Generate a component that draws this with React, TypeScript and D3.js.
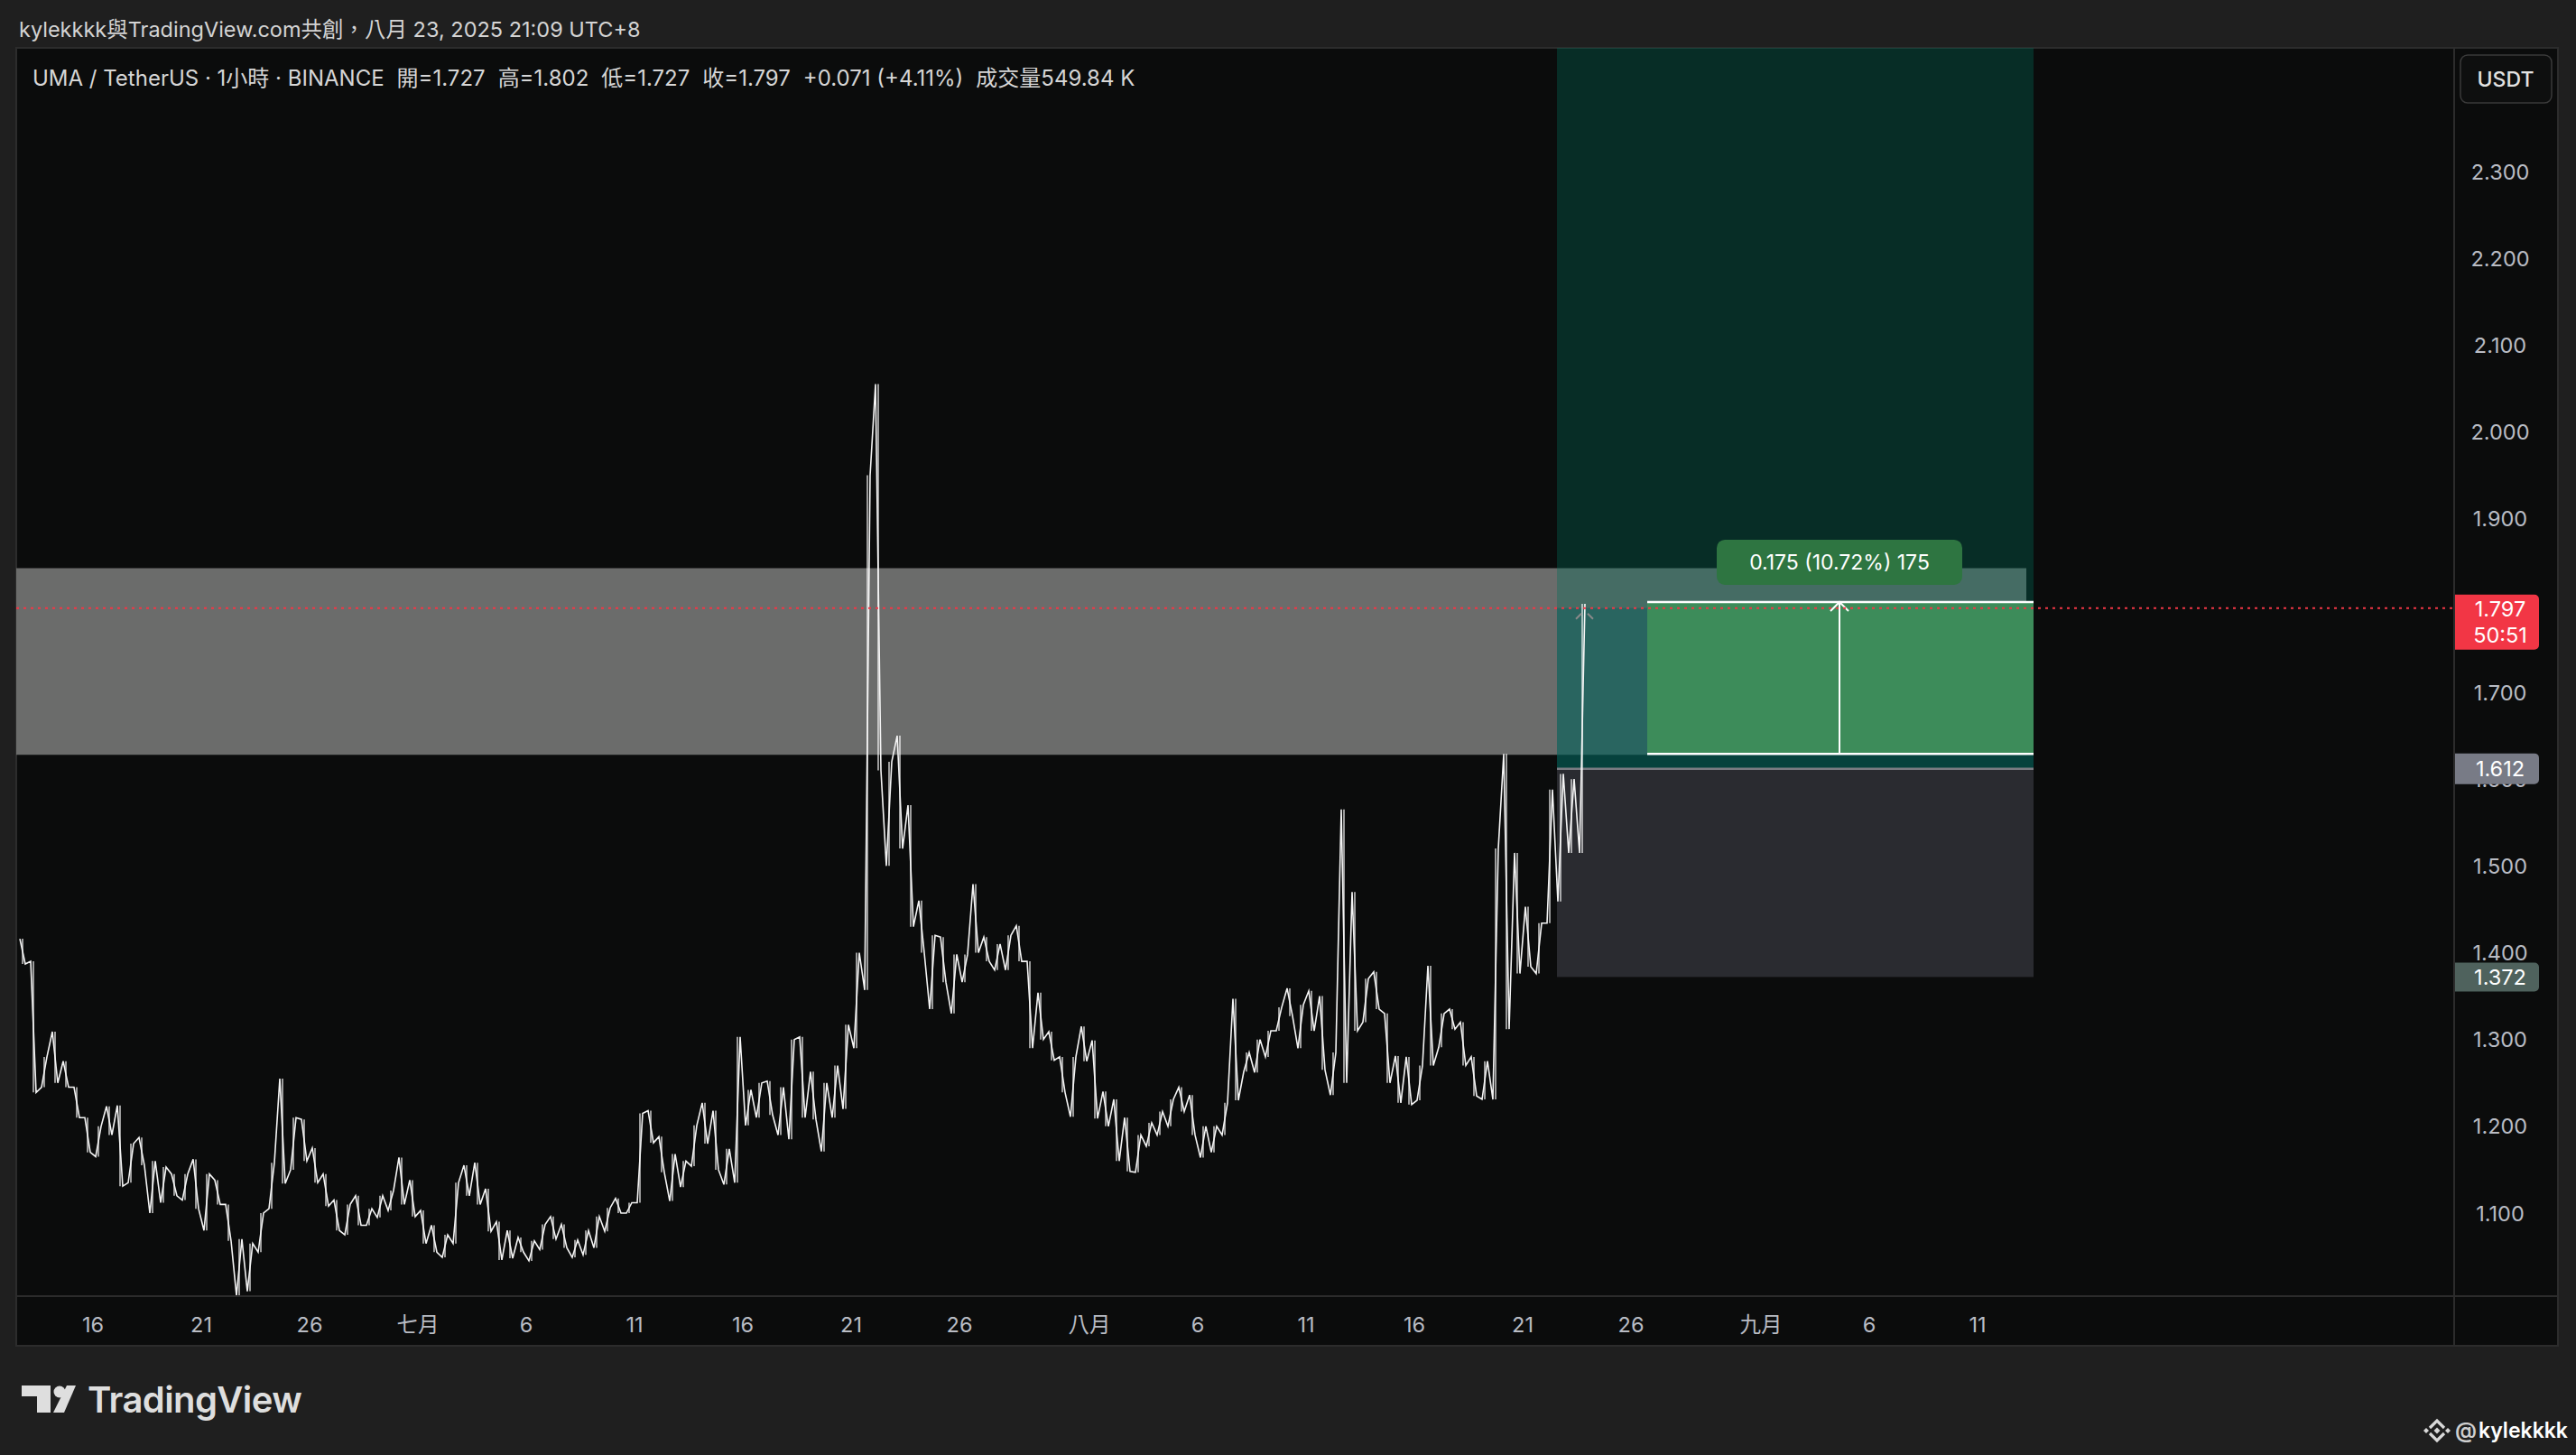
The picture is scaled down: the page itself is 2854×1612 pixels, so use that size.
import React from 'react';
import * as d3 from 'd3';

const W = 2854;
const H = 1612;
const FONT = "Inter, 'Noto Sans CJK TC', 'Noto Sans', sans-serif";

// ---- series: 12-hour buckets (high / low), first bucket starts 2025-06-12 12:00 ----
const seriesStart = '2025-06-12T12:00:00Z';
const bucketHours = 12;
const highs = [
  1.416, 1.39, 1.28, 1.309, 1.275, 1.245, 1.21, 1.2, 1.223, 1.224,
  1.18, 1.187, 1.16, 1.153, 1.145, 1.145, 1.162, 1.145, 1.138, 1.11,
  1.07, 1.065, 1.1, 1.158, 1.255, 1.21, 1.208, 1.175, 1.145, 1.115,
  1.11, 1.12, 1.105, 1.12, 1.126, 1.164, 1.138, 1.103, 1.086, 1.075,
  1.135, 1.155, 1.158, 1.128, 1.09, 1.08, 1.072, 1.068, 1.087, 1.096,
  1.087, 1.069, 1.08, 1.096, 1.106, 1.117, 1.112, 1.215, 1.218, 1.188,
  1.168, 1.16, 1.201, 1.227, 1.218, 1.174, 1.303, 1.242, 1.25, 1.252,
  1.245, 1.3, 1.303, 1.263, 1.25, 1.27, 1.317, 1.4, 1.95, 2.055,
  1.62, 1.65, 1.57, 1.46, 1.42, 1.418, 1.398, 1.398, 1.479, 1.418,
  1.41, 1.42, 1.431, 1.39, 1.354, 1.309, 1.28, 1.28, 1.315, 1.299,
  1.24, 1.231, 1.21, 1.19, 1.204, 1.217, 1.231, 1.245, 1.236, 1.2,
  1.2, 1.227, 1.347, 1.285, 1.3, 1.31, 1.337, 1.359, 1.34, 1.356,
  1.35, 1.285, 1.565, 1.47, 1.37, 1.378, 1.33, 1.281, 1.28, 1.27,
  1.385, 1.33, 1.335, 1.32, 1.28, 1.275, 1.52, 1.629, 1.515, 1.453,
  1.434, 1.588, 1.606, 1.6, 1.802,
];
const lows = [
  1.387, 1.239, 1.245, 1.25, 1.245, 1.21, 1.17, 1.165, 1.19, 1.131,
  1.135, 1.155, 1.1, 1.112, 1.12, 1.115, 1.105, 1.08, 1.11, 1.068,
  1.005, 1.01, 1.055, 1.105, 1.134, 1.15, 1.16, 1.135, 1.108, 1.08,
  1.075, 1.086, 1.086, 1.095, 1.103, 1.11, 1.096, 1.065, 1.055, 1.049,
  1.065, 1.12, 1.11, 1.079, 1.046, 1.048, 1.055, 1.045, 1.058, 1.07,
  1.06, 1.049, 1.052, 1.06, 1.079, 1.1, 1.1, 1.112, 1.181, 1.147,
  1.114, 1.13, 1.154, 1.18, 1.15, 1.133, 1.135, 1.201, 1.21, 1.213,
  1.19, 1.185, 1.21, 1.208, 1.171, 1.21, 1.22, 1.29, 1.357, 1.61,
  1.5, 1.52, 1.43, 1.4, 1.335, 1.366, 1.33, 1.366, 1.4, 1.39,
  1.38, 1.38, 1.39, 1.29, 1.3, 1.276, 1.239, 1.211, 1.275, 1.209,
  1.2, 1.16, 1.148, 1.147, 1.177, 1.19, 1.2, 1.217, 1.19, 1.164,
  1.17, 1.19, 1.23, 1.263, 1.262, 1.28, 1.31, 1.327, 1.29, 1.31,
  1.265, 1.236, 1.25, 1.31, 1.32, 1.335, 1.25, 1.227, 1.225, 1.23,
  1.27, 1.291, 1.312, 1.27, 1.235, 1.231, 1.231, 1.312, 1.376, 1.384,
  1.376, 1.434, 1.459, 1.515, 1.515,
];

// ---- axes ----
const priceTicks = [1.1, 1.2, 1.3, 1.4, 1.5, 1.6, 1.7, 1.8, 1.9, 2.0, 2.1, 2.2, 2.3];
const timeTickDates = [
  '2025-06-16', '2025-06-21', '2025-06-26', '2025-07-01', '2025-07-06', '2025-07-11',
  '2025-07-16', '2025-07-21', '2025-07-26', '2025-08-01', '2025-08-06', '2025-08-11',
  '2025-08-16', '2025-08-21', '2025-08-26', '2025-09-01', '2025-09-06', '2025-09-11',
];
const timeTickLabels = ['16', '21', '26', '七月', '6', '11', '16', '21', '26', '八月', '6', '11', '16', '21', '26', '九月', '6', '11'];

// ---- drawings ----
const bandStart = '2025-06-01T00:00:00Z';
const bandEnd = '2025-09-13T06:00:00Z';
const bandTop = 1.843;
const bandBottom = 1.628;

const positionStart = '2025-08-22T14:00:00Z';
const positionEnd = '2025-09-13T14:00:00Z';
const entryPrice = 1.612;
const stopPrice = 1.372;
const targetPrice = 2.6;
const lastClose = 1.797;

const measureStart = '2025-08-26T18:00:00Z';
const measureArrowAt = '2025-09-04T15:00:00Z';
const measureFrom = 1.629;
const measureTo = 1.804;
const measureLabel = '0.175 (10.72%) 175';

const headerText = 'kylekkkk與TradingView.com共創，八月 23, 2025 21:09 UTC+8';
const legendParts = [
  'UMA / TetherUS · 1小時 · BINANCE',
  '開=1.727',
  '高=1.802',
  '低=1.727',
  '收=1.797',
  '+0.071 (+4.11%)',
  '成交量549.84 K',
];
const currencyLabel = 'USDT';
const countdownLabel = '50:51';

const PANE = { left: 18, top: 53, right: 2834, bottom: 1491, axisX: 2719, axisY: 1436 };

export default function App() {
  const x = d3
    .scaleUtc()
    .domain([new Date('2025-06-16T00:00:00Z'), new Date('2025-09-11T00:00:00Z')])
    .range([103, 2191]);
  const y = d3.scaleLinear().domain([1.1, 2.3]).range([1344, 190]);

  const t0 = new Date(seriesStart).getTime();
  const n = highs.length;
  const pts: [number, number][] = [];
  for (let i = 0; i < n; i++) {
    const cx = x(new Date(t0 + (i * bucketHours + bucketHours / 2) * 3600e3));
    const mid = (highs[i] + lows[i]) / 2;
    const rising = i < n - 1 ? (highs[i + 1] + lows[i + 1]) / 2 >= mid : true;
    if (rising) {
      pts.push([cx - 3, y(lows[i])], [cx + 3, y(highs[i])]);
    } else {
      pts.push([cx - 3, y(highs[i])], [cx + 3, y(lows[i])]);
    }
  }
  const linePath = d3.line()(pts) || '';
  const wicks = highs.map((h, i) => {
    const cx = x(new Date(t0 + (i * bucketHours + bucketHours / 2) * 3600e3));
    return { cx, y1: y(h), y2: y(lows[i]) };
  });

  const pL = x(new Date(positionStart));
  const pR = x(new Date(positionEnd));
  const yEntry = y(entryPrice);
  const yStop = y(stopPrice);
  const yTarget = y(targetPrice);
  const yClose = y(lastClose);
  const mL = x(new Date(measureStart));
  const mA = x(new Date(measureArrowAt));
  const yMTop = y(measureTo);
  const yMBot = y(measureFrom);

  const axisLabelX = 2770;
  const tickColor = '#b9bcc4';
  const legendGap = 14;

  return (
    <div style={{ position: 'absolute', left: 0, top: 0, width: W, height: H }}>
      <svg width={W} height={H} style={{ display: 'block' }} fontFamily={FONT}>
        <defs>
          <clipPath id="pane">
            <rect x={PANE.left} y={PANE.top} width={PANE.axisX - PANE.left} height={PANE.axisY - PANE.top} />
          </clipPath>
        </defs>
        <rect x={0} y={0} width={W} height={H} fill="#1f1f1f" />
        <text x={21} y={41} fontSize={23.5} fill="#d4d4d4">{headerText}</text>

        <rect x={PANE.left} y={PANE.top} width={PANE.right - PANE.left} height={PANE.bottom - PANE.top} fill="#0b0c0c" stroke="#2c2c2c" strokeWidth={2} />

        <g clipPath="url(#pane)">
          {/* gray zone */}
          <rect x={x(new Date(bandStart))} y={y(bandTop)} width={x(new Date(bandEnd)) - x(new Date(bandStart))} height={y(bandBottom) - y(bandTop)} fill="#6b6c6b" />
          {/* target zone */}
          <rect x={pL} y={yTarget} width={pR - pL} height={yEntry - yTarget} fill="rgb(0,110,90)" fillOpacity={0.35} />
          {/* open profit overlay */}
          <rect x={pL} y={yClose} width={pR - pL} height={yEntry - yClose} fill="rgb(7,93,90)" fillOpacity={0.44} />
          {/* stop zone */}
          <rect x={pL} y={yEntry} width={pR - pL} height={yStop - yEntry} fill="#2a2b30" />
          <line x1={pL} x2={pR} y1={yEntry} y2={yEntry} stroke="#7b7c83" strokeWidth={2.5} />

          {/* price series */}
          {wicks.map((w, i) => (
            <line key={i} x1={w.cx} x2={w.cx} y1={w.y1} y2={w.y2} stroke="#ffffff" strokeWidth={1.2} />
          ))}
          <path d={linePath} fill="none" stroke="#f4f4f4" strokeWidth={1.6} strokeLinejoin="miter" />

          {/* small marker near last bar */}
          <path d={`M${x(new Date('2025-08-23T11:00:00Z'))},${yClose + 12} l6,-6 M${x(new Date('2025-08-24T00:00:00Z'))},${yClose + 6} l6,6`} stroke="#8a8a8a" strokeWidth={2} fill="none" />

          {/* measure box */}
          <rect x={mL} y={yMTop} width={pR - mL} height={yMBot - yMTop} fill="#3d8c5a" />
          <line x1={mL} x2={pR} y1={yMTop} y2={yMTop} stroke="#ffffff" strokeWidth={2.5} />
          <line x1={mL} x2={pR} y1={yMBot} y2={yMBot} stroke="#ffffff" strokeWidth={2.5} />
          <line x1={mA} x2={mA} y1={yMTop} y2={yMBot} stroke="#ffffff" strokeWidth={2} />
          <path d={`M${mA - 10},${yMTop + 10} L${mA},${yMTop} L${mA + 10},${yMTop + 10}`} stroke="#ffffff" strokeWidth={2} fill="none" />
          <rect x={mA - 136} y={yMTop - 69} width={272} height={50} rx={9} fill="#2e7541" />
          <text x={mA} y={yMTop - 44} fontSize={23} fill="#ffffff" textAnchor="middle" dominantBaseline="central">{measureLabel}</text>

          {/* last price line */}
          <line x1={PANE.left} x2={PANE.axisX} y1={yClose} y2={yClose} stroke="#f23645" strokeWidth={2} strokeDasharray="3 5" />
        </g>

        <text x={36} y={95} fontSize={24} fill="#d6d6d6">
          {legendParts.map((p, i) => (
            <tspan key={i} dx={i === 0 ? 0 : legendGap}>{p}</tspan>
          ))}
        </text>

        {/* axes separators */}
        <line x1={PANE.axisX} x2={PANE.axisX} y1={PANE.top} y2={PANE.bottom} stroke="#2c2c2c" strokeWidth={2} />
        <line x1={PANE.left} x2={PANE.right} y1={PANE.axisY} y2={PANE.axisY} stroke="#2c2c2c" strokeWidth={2} />

        {/* price axis */}
        {priceTicks.map((t) => (
          <text key={t} x={axisLabelX} y={y(t)} fontSize={23.5} fill={tickColor} textAnchor="middle" dominantBaseline="central">
            {t.toFixed(3)}
          </text>
        ))}
        <rect x={2726} y={61} width={101} height={53} rx={8} fill="#0e0f0f" stroke="#3a3a3a" strokeWidth={1.5} />
        <text x={2776} y={88} fontSize={23} fill="#e2e2e2" textAnchor="middle" dominantBaseline="central" fontWeight={500}>{currencyLabel}</text>

        <path d={`M2720,${yClose - 15} H2808 a5,5 0 0 1 5,5 V${yClose + 41} a5,5 0 0 1 -5,5 H2720 Z`} fill="#f23645" />
        <text x={axisLabelX} y={yClose + 1} fontSize={23.5} fill="#ffffff" textAnchor="middle" dominantBaseline="central">{lastClose.toFixed(3)}</text>
        <text x={axisLabelX} y={yClose + 30} fontSize={23.5} fill="#ffffff" textAnchor="middle" dominantBaseline="central">{countdownLabel}</text>

        <path d={`M2720,${yEntry - 17} H2808 a5,5 0 0 1 5,5 V${yEntry + 12} a5,5 0 0 1 -5,5 H2720 Z`} fill="#787b86" />
        <text x={axisLabelX} y={yEntry} fontSize={23.5} fill="#ffffff" textAnchor="middle" dominantBaseline="central">{entryPrice.toFixed(3)}</text>

        <path d={`M2720,${yStop - 16} H2808 a5,5 0 0 1 5,5 V${yStop + 11} a5,5 0 0 1 -5,5 H2720 Z`} fill="#4f625d" />
        <text x={axisLabelX} y={yStop} fontSize={23.5} fill="#ffffff" textAnchor="middle" dominantBaseline="central">{stopPrice.toFixed(3)}</text>

        {/* time axis */}
        {timeTickDates.map((d, i) => (
          <text key={d} x={x(new Date(d + 'T00:00:00Z'))} y={1467} fontSize={23.5} fill={tickColor} textAnchor="middle" dominantBaseline="central">
            {timeTickLabels[i]}
          </text>
        ))}

        {/* TradingView logo */}
        <g fill="#dedede">
          <path d="M24,1535 H56 V1565 H41 V1547 H24 Z" />
          <circle cx={66} cy={1542} r={6.5} />
          <path d="M74,1535 H84 L71,1565 H59 Z" />
          <text x={97} y={1565} fontSize={40} fontWeight={600} fontFamily="Inter, sans-serif" letterSpacing={-0.6}>TradingView</text>
        </g>

        {/* author */}
        <g fill="#d9d9d9" stroke="none">
          <path d="M2692,1582 L2700,1574 L2708,1582" stroke="#d9d9d9" strokeWidth={3.2} fill="none" />
          <path d="M2692,1588 L2700,1596 L2708,1588" stroke="#d9d9d9" strokeWidth={3.2} fill="none" />
          <path d="M2700,1581.5 L2703.5,1585 L2700,1588.5 L2696.5,1585 Z" />
          <path d="M2688,1582 L2691,1585 L2688,1588 L2685,1585 Z" />
          <path d="M2712,1582 L2715,1585 L2712,1588 L2709,1585 Z" />
        </g>
        <text x={2720} y={1593} fontSize={24} fill="#cfcfcf" fontWeight={600}>@</text>
        <text x={2746} y={1593} fontSize={24} fill="#ffffff" fontWeight={600} textLength={99} lengthAdjust="spacingAndGlyphs">kylekkkk</text>
      </svg>
    </div>
  );
}
